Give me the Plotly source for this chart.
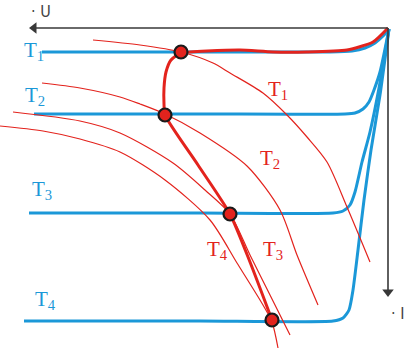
import plotly.graph_objects as go

# Blue characteristic lines (pixel-space coordinates)
blue_t1_x = [42, 200, 330, 352, 365, 375, 383, 389]
blue_t1_y = [52, 52, 52, 51, 48, 43, 36, 29]
blue_t2_x = [34, 200, 345, 355, 363, 369, 374, 380, 389]
blue_t2_y = [114, 114, 114, 113, 109, 102, 90, 72, 29]
blue_t3_x = [29, 200, 333, 343, 350, 355, 362, 370, 379, 389]
blue_t3_y = [213, 213, 213, 211, 205, 192, 162, 132, 88, 29]
blue_t4_x = [24, 200, 333, 343, 349, 353, 358, 364, 371, 380, 389]
blue_t4_y = [321, 321, 321, 318, 310, 290, 250, 200, 150, 95, 29]

# Thin red curves
red_a_x = [93, 140, 181, 213, 230, 263, 287, 307, 327, 347, 370]
red_a_y = [40, 45, 52, 63, 73, 93, 115, 137, 162, 207, 262]
red_b_x = [42, 80, 120, 140, 165, 200, 247, 280, 297, 318]
red_b_y = [83, 88, 97, 104, 114, 133, 166, 210, 255, 305]
red_c_x = [13, 80, 120, 173, 205, 230, 250, 270, 290]
red_c_y = [112, 121, 133, 163, 190, 214, 255, 295, 335]
red_d_x = [0, 43, 80, 120, 165, 210, 237, 263, 272, 278]
red_d_y = [126, 131, 139, 152, 180, 220, 263, 305, 322, 348]

# Thick red operating curve
thick_x = [388, 373, 347, 307, 273, 240, 207, 190, 181, 171, 166, 164, 164, 165, 198, 230, 250, 272]
thick_y = [28, 42, 50, 52, 52, 50, 51, 52, 53, 60, 72, 88, 104, 115, 165, 214, 262, 320]

# Operating points
dot_x = [181, 165, 230, 272]
dot_y = [52, 115, 214, 320]

# Axes (origin at top-right)
u_axis_x = [388, 36]
u_axis_y = [28, 28]
i_axis_x = [388, 388]
i_axis_y = [28, 290]

# Labels
blue_labels = ["T<sub>1</sub>", "T<sub>2</sub>", "T<sub>3</sub>", "T<sub>4</sub>"]
blue_lab_x = [22, 23, 30, 33]
blue_lab_y = [51, 96, 190, 300]
red_labels = ["T<sub>1</sub>", "T<sub>2</sub>", "T<sub>3</sub>", "T<sub>4</sub>"]
red_lab_x = [266, 258, 261, 205]
red_lab_y = [90, 159, 250, 250]

BLUE = "#1b98d8"
RED = "#e3231d"
AX = "#383838"

fig = go.Figure()

for xs, ys in [(blue_t1_x, blue_t1_y), (blue_t2_x, blue_t2_y),
               (blue_t3_x, blue_t3_y), (blue_t4_x, blue_t4_y)]:
    fig.add_trace(go.Scatter(x=xs, y=ys, mode="lines",
                             line=dict(color=BLUE, width=3, shape="spline", smoothing=0.6),
                             hoverinfo="skip"))

for xs, ys in [(red_a_x, red_a_y), (red_b_x, red_b_y),
               (red_c_x, red_c_y), (red_d_x, red_d_y)]:
    fig.add_trace(go.Scatter(x=xs, y=ys, mode="lines",
                             line=dict(color=RED, width=1.2, shape="spline", smoothing=0.8),
                             hoverinfo="skip"))

fig.add_trace(go.Scatter(x=thick_x, y=thick_y, mode="lines",
                         line=dict(color=RED, width=3, shape="spline", smoothing=0.6),
                         hoverinfo="skip"))

fig.add_trace(go.Scatter(x=dot_x, y=dot_y, mode="markers",
                         marker=dict(color=RED, size=13, line=dict(color="#1a1a1a", width=2.2)),
                         hoverinfo="skip"))

# Axis lines with arrowheads
fig.add_trace(go.Scatter(x=u_axis_x, y=u_axis_y, mode="lines",
                         line=dict(color=AX, width=1.6), hoverinfo="skip"))
fig.add_trace(go.Scatter(x=i_axis_x, y=i_axis_y, mode="lines",
                         line=dict(color=AX, width=1.6), hoverinfo="skip"))
fig.add_trace(go.Scatter(x=[u_axis_x[-1] - 2], y=[u_axis_y[-1]], mode="markers",
                         marker=dict(symbol="triangle-left", size=10, color=AX),
                         hoverinfo="skip"))
fig.add_trace(go.Scatter(x=[i_axis_x[-1]], y=[i_axis_y[-1] + 2], mode="markers",
                         marker=dict(symbol="triangle-down", size=10, color=AX),
                         hoverinfo="skip"))

fig.add_annotation(x=29, y=11, text="· U", showarrow=False, xanchor="left", yanchor="middle",
                   font=dict(family="DejaVu Sans Condensed, DejaVu Sans", size=16, color="#444444"))
fig.add_annotation(x=389, y=313, text="· I", showarrow=False, xanchor="left", yanchor="middle",
                   font=dict(family="DejaVu Sans Condensed, DejaVu Sans", size=16, color="#444444"))

for t, x, y in zip(blue_labels, blue_lab_x, blue_lab_y):
    fig.add_annotation(x=x, y=y, text=t, showarrow=False, xanchor="left", yanchor="middle",
                       font=dict(family="Liberation Serif", size=21, color=BLUE))
for t, x, y in zip(red_labels, red_lab_x, red_lab_y):
    fig.add_annotation(x=x, y=y, text=t, showarrow=False, xanchor="left", yanchor="middle",
                       font=dict(family="Liberation Serif", size=21, color=RED))

fig.update_layout(width=407, height=351, margin=dict(l=0, r=0, t=0, b=0),
                  paper_bgcolor="white", plot_bgcolor="white", showlegend=False)
fig.update_xaxes(range=[0, 407], visible=False, fixedrange=True)
fig.update_yaxes(range=[351, 0], visible=False, fixedrange=True)

fig.write_html("out.html")
